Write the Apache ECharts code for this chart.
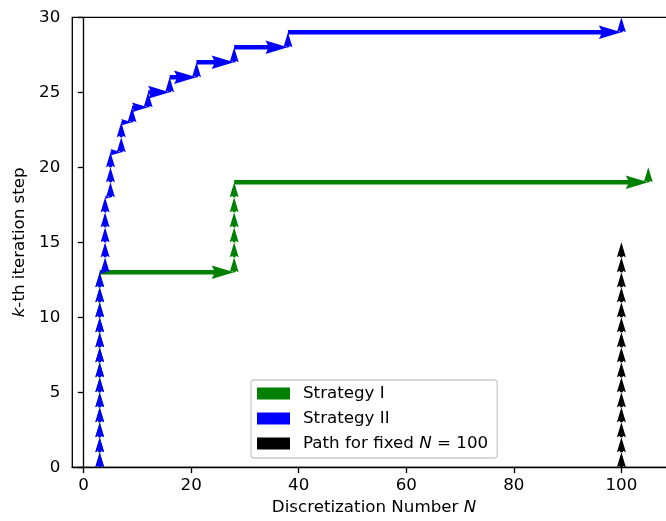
<!DOCTYPE html>
<html>
<head>
<meta charset="utf-8">
<script src="https://cdn.jsdelivr.net/npm/echarts@6/dist/echarts.min.js"></script>
<style>html,body{margin:0;padding:0;background:#fff}#c{width:666px;height:521px}</style>
</head>
<body>
<div id="c"></div>
<script>
// Discretization number N used at iteration k = 0, 1, 2, ...
var strategyI_N = [3,3,3,3,3,3,3,3,3,3,3,3,3, 28,28,28,28,28,28, 105];
var strategyII_N = [3,3,3,3,3,3,3,3,3,3,3,3,3, 4,4,4,4,4, 5,5,5, 7,7, 9, 12, 16, 21, 28, 38, 100];
var fixedN = [100,100,100,100,100,100,100,100,100,100,100,100,100,100,100];
var xTicks = [0, 20, 40, 60, 80, 100];
var yTicks = [0, 5, 10, 15, 20, 25, 30];
var seriesNames = ['Strategy I', 'Strategy II', 'Path for fixed N = 100'];
var seriesColors = ['green', 'blue', 'black'];

function buildArrows(Ns) {
  var arr = [];
  for (var k = 0; k < Ns.length; k++) {
    if (k > 0 && Ns[k] !== Ns[k - 1]) arr.push([Ns[k - 1], k, Ns[k], k]);
    arr.push([Ns[k], k, Ns[k], k + 1]);
  }
  return arr;
}

var W = 4.5; // shaft width px
function renderArrow(params, api) {
  var p0 = api.coord([api.value(0), api.value(1)]);
  var p1 = api.coord([api.value(2), api.value(3)]);
  var dx = p1[0] - p0[0], dy = p1[1] - p0[1];
  var Lpx = Math.sqrt(dx * dx + dy * dy);
  if (Lpx < 1e-6) return;
  var ux = dx / Lpx, uy = dy / Lpx, nx = -uy, ny = ux;
  var L = Lpx / W, hl = 5, hal = 4.5, hw = 3;
  var X, Y;
  if (L < hl) {
    var s = L / hl;
    X = [0, (hl - hal) * s, 0, hl * s, 0, (hl - hal) * s, 0];
    Y = [0.5 * s, 0.5 * s, 1.5 * s, 0, -1.5 * s, -0.5 * s, -0.5 * s];
  } else {
    X = [0, L - hal, L - hl, L, L - hl, L - hal, 0];
    Y = [0.5, 0.5, 1.5, 0, -1.5, -0.5, -0.5];
  }
  var pts = [];
  for (var i = 0; i < X.length; i++) {
    pts.push([p0[0] + (X[i] * ux + Y[i] * nx) * W, p0[1] + (X[i] * uy + Y[i] * ny) * W]);
  }
  return {type: 'polygon', shape: {points: pts}, style: {fill: api.visual('color')}};
}

var font = 'DejaVu Sans';
var fs = 16.7;
var allData = [strategyI_N, strategyII_N, fixedN];
var series = allData.map(function (Ns, i) {
  return {
    type: 'custom', name: seriesNames[i], renderItem: renderArrow,
    itemStyle: {color: seriesColors[i]},
    data: buildArrows(Ns), clip: true, animation: false
  };
});

var chart = echarts.init(document.getElementById('c'), null, {renderer: 'canvas'});
chart.setOption({
  animation: false,
  backgroundColor: '#fff',
  grid: {left: 72.3, top: 17.3, width: 603.4, height: 450, show: true, outerBoundsMode: 'none',
         containLabel: false,
         borderColor: '#000', borderWidth: 1.33, backgroundColor: 'transparent'},
  xAxis: {
    type: 'value', min: -2.1, max: 110.1,
    name: 'Discretization Number {i|N}', nameLocation: 'middle', nameGap: 32,
    nameTextStyle: {fontFamily: font, fontSize: fs, color: '#000',
      rich: {i: {fontFamily: font, fontSize: fs, fontStyle: 'italic', color: '#000'}}},
    axisLine: {onZero: false, lineStyle: {color: '#000', width: 1.33}},
    axisTick: {show: true, length: 5.8, lineStyle: {color: '#000', width: 1.33}, customValues: xTicks},
    axisLabel: {fontFamily: font, fontSize: fs, color: '#000', margin: 10, customValues: xTicks},
    splitLine: {show: false}
  },
  yAxis: {
    type: 'value', min: 0, max: 30, interval: 5,
    name: '{i|k}-th iteration step', nameLocation: 'middle', nameGap: 35, nameRotate: 90,
    nameTextStyle: {fontFamily: font, fontSize: fs, color: '#000',
      rich: {i: {fontFamily: font, fontSize: fs, fontStyle: 'italic', color: '#000'}}},
    axisLine: {show: true, lineStyle: {color: '#000', width: 1.33}},
    axisTick: {show: true, length: 5.8, lineStyle: {color: '#000', width: 1.33}, customValues: yTicks},
    axisLabel: {fontFamily: font, fontSize: fs, color: '#000', margin: 12, customValues: yTicks},
    splitLine: {show: false}
  },
  legend: {
    orient: 'vertical', left: 251, top: 380,
    padding: [5, 9, 6, 6], itemWidth: 33, itemHeight: 12, itemGap: 8,
    backgroundColor: 'rgba(255,255,255,0.8)', borderColor: '#cccccc', borderWidth: 1.33, borderRadius: 3,
    data: seriesNames.map(function (n) { return {name: n, icon: 'rect'}; }),
    formatter: function (n) { return n === seriesNames[2] ? 'Path for fixed {i|N} = 100' : n; },
    textStyle: {fontFamily: font, fontSize: fs, color: '#000', lineHeight: 17, padding: [0, 0, 0, 8],
      rich: {i: {fontFamily: font, fontSize: fs, fontStyle: 'italic', color: '#000'}}}
  },
  series: series
});
</script>
</body>
</html>
